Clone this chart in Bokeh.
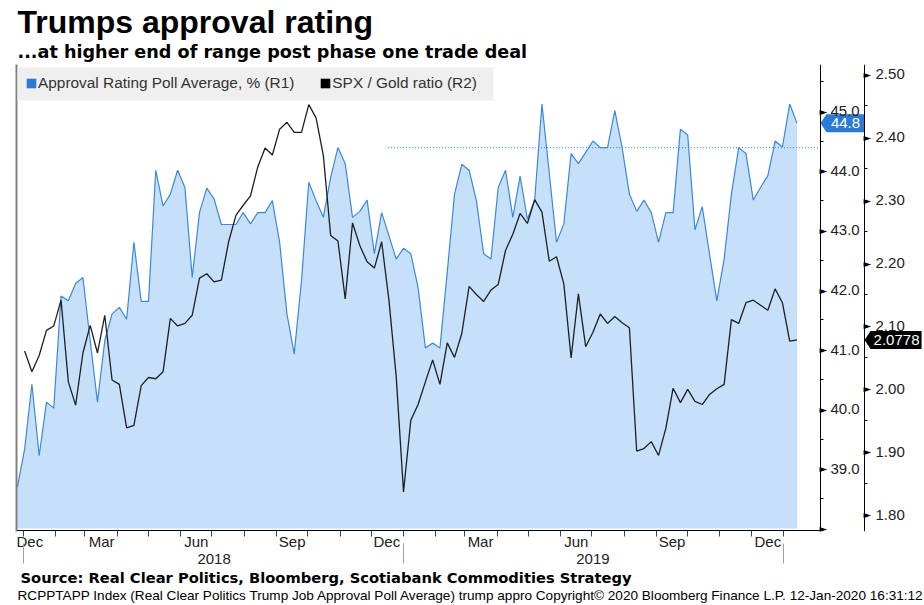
import pandas as pd
from bokeh.plotting import figure
from bokeh.models import (Range1d, LinearAxis, FixedTicker, Legend, LegendItem, Title,
                          NumeralTickFormatter, BoxAnnotation)
from bokeh.core.properties import value
from bokeh.embed import file_html
from bokeh.resources import INLINE

NAN = float("nan")
# ---------------- data (weekly) ----------------
start_date = "2017-12-26"
approval = [
    38.69, 39.33, 40.42, 39.22, 40.12, 40.02, 41.90, 41.82, 42.11, 42.21,
    41.15, 40.12, 41.15, 41.60, 41.71, 41.51, 42.80, 41.81, 41.81, 44.01,
    43.41, 43.61, 44.01, 43.72, 42.21, 43.30, 43.71, 43.53, 43.10, 43.10,
    43.10, 43.30, 43.11, 43.30, 43.30, 43.50, 42.80, 41.60, 40.93, 42.16,
    43.81, 43.50, 43.22, 43.89, 44.39, 44.12, 43.22, 43.32, 43.51, 42.61,
    43.30, 42.91, 42.52, 42.70, 42.61, 42.04, 41.03, 41.11, 41.03, 42.30,
    43.61, 44.11, 44.01, 43.50, 42.61, 42.52, 43.72, 44.01, 43.22, 43.91,
    43.19, 43.51, 45.12, 43.96, 42.80, 43.11, 44.29, 44.12, 44.31, 44.50,
    44.39, 44.39, 45.01, 44.39, 43.61, 43.32, 43.51, 43.30, 42.80, 43.30,
    43.30, 44.70, 44.60, 43.01, 43.40, 42.60, 41.82, 42.52, 43.61, 44.39,
    44.29, 43.51, 43.72, 43.92, 44.50, 44.40, 45.12, 44.80,
]
spx_gold = [
    NAN, 2.060, 2.027, 2.053, 2.093, 2.100, 2.141, 2.011, 1.974, 2.057,
    2.101, 2.057, 2.117, 2.014, 2.007, 1.938, 1.942, 2.005, 2.018, 2.016,
    2.027, 2.112, 2.100, 2.104, 2.117, 2.176, 2.183, 2.170, 2.173, 2.234,
    2.276, 2.292, 2.307, 2.353, 2.383, 2.372, 2.413, 2.424, 2.408, 2.408,
    2.452, 2.431, 2.371, 2.244, 2.235, 2.143, 2.264, 2.228, 2.202, 2.192,
    2.234, 2.141, 2.019, 1.836, 1.950, 1.975, 2.011, 2.046, 2.007, 2.073,
    2.050, 2.088, 2.163, 2.150, 2.139, 2.157, 2.166, 2.220, 2.246, 2.279,
    2.263, 2.301, 2.281, 2.203, 2.210, 2.167, 2.049, 2.151, 2.067, 2.090,
    2.119, 2.104, 2.115, 2.105, 2.097, 1.901, 1.905, 1.916, 1.894, 1.937,
    2.001, 1.978, 1.999, 1.980, 1.975, 1.991, 2.000, 2.007, 2.110, 2.104,
    2.137, 2.141, 2.133, 2.125, 2.159, 2.137, 2.076, 2.0778,
]
last_approval = "44.8"
last_ratio = "2.0778"
ref_level = 44.39
ref_start = "2018-12-17"

r1_ticks = [38, 39, 40, 41, 42, 43, 44, 45]
r1_minor = [38.5, 39.5, 40.5, 41.5, 42.5, 43.5, 44.5, 45.5]
r2_ticks = [1.8, 1.9, 2.0, 2.1, 2.2, 2.3, 2.4, 2.5]
r2_minor = [1.85, 1.95, 2.05, 2.15, 2.25, 2.35, 2.45]
quarter_months = [3, 6, 9, 12]

title_text = "Trumps approval rating"
subtitle_text = "...at higher end of range post phase one trade deal"
legend_1 = "Approval Rating Poll Average, % (R1)"
legend_2 = "SPX / Gold ratio (R2)"
source_text = "Source: Real Clear Politics, Bloomberg, Scotiabank Commodities Strategy"
footer_text = ("RCPPTAPP Index (Real Clear Politics Trump Job Approval Poll Average) trump appro "
               "Copyright\u00a9 2020 Bloomberg Finance L.P. 12-Jan-2020 16:31:12")

# ---------------- derived x (days since 2019-01-01) ----------------
base = pd.Timestamp("2019-01-01")
dates = pd.date_range(start_date, periods=len(approval), freq="7D")
days = [float(d) for d in (dates - base).days]
ref_x = float((pd.Timestamp(ref_start) - base).days)

# view ranges / layout
W, H = 924, 605
F_LEFT, F_TOP, F_BOTTOM = 16, 64, 531
x_lo, x_hi = -371.8, 500.5          # whole frame (incl. right-axis strip)
ax1_x, ax2_x = 400.6, 442.9         # where the two value axes stand
r1_lo, r1_hi = 37.95, 45.784
r2_lo, r2_hi = 1.773, 2.5159
pxd = (W - F_LEFT) / (x_hi - x_lo)
px1 = (F_BOTTOM - F_TOP) / (r1_hi - r1_lo)
px2 = (F_BOTTOM - F_TOP) / (r2_hi - r2_lo)

month_starts = pd.date_range("2017-12-01", "2020-03-01", freq="MS")
month_days = [int((m - base).days) for m in month_starts]
m_minor = [d for d in month_days if x_lo < d < ax1_x - 10]
m_ticks, m_over = [], {}
for i, m in enumerate(month_starts[:-1]):
    if m.month in quarter_months:
        mid = (month_days[i] + month_days[i + 1]) / 2.0
        if mid < x_lo + 13:
            mid = x_lo + 13
        if mid > ax1_x:
            continue
        t = int(round(mid))
        m_ticks.append(t)
        m_over[t] = m.strftime("%b")

year_starts = [int((pd.Timestamp(f"{y}-01-01") - base).days) for y in (2018, 2019, 2020)]
y_ticks, y_over = [], {}
for y in (2018, 2019):
    a = int((pd.Timestamp(f"{y}-01-01") - base).days)
    b = int((pd.Timestamp(f"{y + 1}-01-01") - base).days)
    mid = int(round((a + b) / 2.0))
    y_ticks.append(mid)
    y_over[mid] = str(y)

# ---------------- figure ----------------
p = figure(width=W, height=H, output_backend="svg", toolbar_location=None,
           x_range=Range1d(x_lo, x_hi), y_range=Range1d(r1_lo, r1_hi),
           y_axis_location=None,
           min_border_left=F_LEFT, min_border_right=0, min_border_top=F_TOP,
           min_border_bottom=H - F_BOTTOM)
p.extra_y_ranges = {"r2": Range1d(r2_lo, r2_hi)}
p.grid.visible = False
p.outline_line_color = None
p.background_fill_color = "white"
p.border_fill_color = "white"

BLUE_FILL = "#c7e0fa"
BLUE_LINE = "#3a89d9"
BLUE_TAG = "#2b7bd4"
TXT = "#222222"
FONT = "Liberation Sans"

p.varea(x=days, y1=r1_ticks[0], y2=approval, fill_color=BLUE_FILL, fill_alpha=1)
p.line(days, approval, line_color=BLUE_LINE, line_width=1.2)
p.line([ref_x, ax1_x], [ref_level, ref_level], line_color="#3399ff", line_width=1.2,
       line_dash="1 2")
p.line(days, spx_gold, y_range_name="r2", line_color="#1f1f1f", line_width=1.3)

# bottom axis rule, ending at the value axis
y_rule = r1_lo + 1.0 / px1
p.line([x_lo, ax1_x], [y_rule, y_rule], line_color="black", line_width=1)

# legend background box and legend
p.add_layout(BoxAnnotation(left=x_lo + 1 / pxd, right=x_lo + 477 / pxd,
                           top=r1_hi - 3 / px1, bottom=r1_hi - 36 / px1,
                           fill_color="#efefef", fill_alpha=1, line_color=None))
d1 = p.quad(left=[NAN], right=[NAN], top=[NAN], bottom=[NAN], fill_color=BLUE_TAG, line_color=None)
d2 = p.quad(left=[NAN], right=[NAN], top=[NAN], bottom=[NAN], fill_color="black", line_color=None)
legend = Legend(items=[LegendItem(label=legend_1, renderers=[d1]),
                       LegendItem(label=legend_2, renderers=[d2])],
                orientation="horizontal", location="top_left", margin=9, padding=0,
                spacing=25, glyph_width=12, glyph_height=12, label_standoff=1,
                label_height=20, background_fill_alpha=0,
                border_line_color=None, label_text_font=FONT,
                label_text_font_size="15.4px", label_text_color="#333333")
p.add_layout(legend, "center")

# ---------------- axes ----------------
def style_y(ax, standoff):
    ax.axis_line_color = "black"
    ax.axis_line_width = 1
    ax.major_tick_out = 7
    ax.major_tick_in = 0
    ax.major_tick_line_color = None
    ax.minor_tick_out = 3
    ax.minor_tick_in = 0
    ax.minor_tick_line_color = "black"
    ax.major_label_standoff = standoff
    ax.major_label_text_font = FONT
    ax.major_label_text_font_size = "15px"
    ax.major_label_text_color = TXT

ax1 = LinearAxis(ticker=FixedTicker(ticks=r1_ticks, minor_ticks=r1_minor),
                 formatter=NumeralTickFormatter(format="0.0"),
                 major_label_overrides={38: ""}, fixed_location=ax1_x)
style_y(ax1, 3)
p.add_layout(ax1, "right")

ax2 = LinearAxis(y_range_name="r2", ticker=FixedTicker(ticks=r2_ticks, minor_ticks=r2_minor),
                 formatter=NumeralTickFormatter(format="0.00"), fixed_location=ax2_x)
style_y(ax2, 4)
p.add_layout(ax2, "right")

axl = LinearAxis(ticker=FixedTicker(ticks=[]), major_tick_out=0, major_tick_in=0,
                 minor_tick_out=0, minor_tick_in=0, major_label_standoff=0,
                 axis_line_color="#808080", axis_line_width=2)
p.add_layout(axl, "left")

xa = p.xaxis[0]
xa.ticker = FixedTicker(ticks=m_ticks, minor_ticks=m_minor)
xa.major_label_overrides = m_over
xa.axis_line_color = None
xa.major_tick_line_color = None
xa.major_tick_out = 0
xa.major_tick_in = 0
xa.minor_tick_out = 5
xa.minor_tick_in = 1
xa.minor_tick_line_color = "#444444"
xa.major_label_standoff = -4
xa.major_label_text_font = FONT
xa.major_label_text_font_size = "15px"
xa.major_label_text_color = TXT

xy = LinearAxis(ticker=FixedTicker(ticks=y_ticks, minor_ticks=year_starts),
                major_label_overrides=y_over)
xy.axis_line_color = None
xy.major_tick_line_color = None
xy.major_tick_out = 0
xy.major_tick_in = 0
xy.minor_tick_in = 9
xy.minor_tick_out = 11
xy.minor_tick_line_color = "#a0a0a0"
xy.major_label_standoff = -10
xy.major_label_text_font = FONT
xy.major_label_text_font_size = "15px"
xy.major_label_text_color = TXT
p.add_layout(xy, "below")

# ---------------- tick triangles (in place of tick marks) ----------------
p.text(x=[ax1_x] * len(r1_ticks), y=r1_ticks, text=["\u25ba"] * len(r1_ticks),
       text_font=value("DejaVu Sans"), text_font_size=value("10px"), text_color="black",
       text_align="left", text_baseline="middle", x_offset=-1)
p.text(x=[ax2_x] * len(r2_ticks), y=r2_ticks, text=["\u25ba"] * len(r2_ticks),
       y_range_name="r2", text_font=value("DejaVu Sans"), text_font_size=value("10px"),
       text_color="black", text_align="left", text_baseline="middle", x_offset=-1)

# ---------------- value tags ----------------
v1 = float(last_approval)
v2 = float(last_ratio)
h1 = 9.0 / px1
h2 = 9.0 / px2
tag1_x = [ax1_x + d / pxd for d in (0, 6, 44, 44, 6)]
tag2_x = [ax2_x + d / pxd for d in (0, 6, 57, 57, 6)]
p.patch(tag1_x, [v1, v1 + h1, v1 + h1, v1 - h1, v1 - h1], fill_color=BLUE_TAG, line_color=None)
p.text(x=[ax1_x], y=[v1], text=[last_approval], x_offset=25, text_font=value(FONT),
       text_font_size=value("15px"), text_color="white", text_align="center",
       text_baseline="middle")
p.patch(tag2_x, [v2, v2 + h2, v2 + h2, v2 - h2, v2 - h2], y_range_name="r2",
        fill_color="black", line_color=None)
p.text(x=[ax2_x], y=[v2], text=[last_ratio], y_range_name="r2", x_offset=32,
       text_font=value(FONT), text_font_size=value("15px"), text_color="white",
       text_align="center", text_baseline="middle")

# ---------------- titles / notes ----------------
p.add_layout(Title(text=subtitle_text, align="left", offset=1, standoff=5,
                   text_font="DejaVu Sans", text_font_size="17.6px",
                   text_font_style="bold", text_color="black"), "above")
p.add_layout(Title(text=title_text, align="left", offset=1, standoff=-4,
                   text_font="Liberation Sans", text_font_size="32px",
                   text_font_style="bold", text_color="black"), "above")
p.add_layout(Title(text=source_text, align="left", offset=4, standoff=0,
                   text_font="DejaVu Sans", text_font_size="14.7px",
                   text_font_style="bold", text_color="black"), "below")
p.add_layout(Title(text=footer_text, align="left", offset=1, standoff=1,
                   text_font="Liberation Sans", text_font_size="13.6px",
                   text_font_style="normal", text_color="black"), "below")

open("out.html", "w").write(file_html(p, INLINE))
